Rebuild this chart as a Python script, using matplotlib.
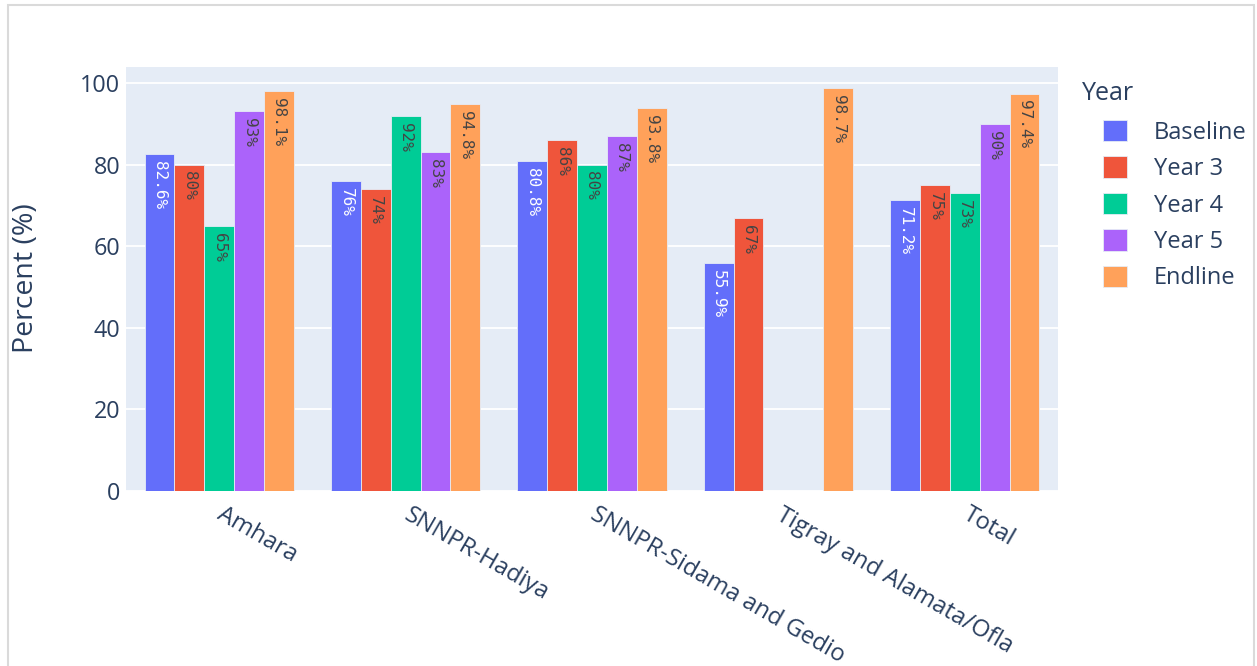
import numpy as np
import matplotlib
matplotlib.use("Agg")
import matplotlib.pyplot as plt
from matplotlib.patches import Rectangle

plt.rcParams['font.family'] = ['Open Sans', 'DejaVu Sans']

# Regions along the x axis
regions = ["Amhara", "SNNPR-Hadiya", "SNNPR-Sidama and Gedio",
           "Tigray and Alamata/Ofla", "Total"]

# Percent values per survey round (nan = not surveyed)
baseline = [82.6, 76, 80.8, 55.9, 71.2]
year3 = [80, 74, 86, 67, 75]
year4 = [65, 92, 80, np.nan, 73]
year5 = [93, 83, 87, np.nan, 90]
endline = [98.1, 94.8, 93.8, 98.7, 97.4]

series_names = ["Baseline", "Year 3", "Year 4", "Year 5", "Endline"]
series_values = [baseline, year3, year4, year5, endline]
series_colors = ["#636EFA", "#EF553B", "#00CC96", "#AB63FA", "#FFA15A"]
label_colors = ["white", "#444444", "#444444", "#444444", "#444444"]

y_ticks = [0, 20, 40, 60, 80, 100]

W, H = 1257, 666
fig = plt.figure(figsize=(W / 100, H / 100), dpi=100)
fig.patch.set_facecolor("white")

# light frame around the figure
fig.patches.append(Rectangle((8 / W, -0.05), (1254 - 8) / W, 1.05 - 5 / H,
                             transform=fig.transFigure, fill=False,
                             edgecolor="#dadada", linewidth=1.5, zorder=0))

ax = fig.add_axes([126 / W, 1 - 491 / H, 932 / W, 424 / H])
ax.set_facecolor("#E5ECF6")
text_color = "#2a3f5f"

x = np.arange(len(regions))
bar_w = 0.16
handles = []
for i, (name, vals, col, lcol) in enumerate(zip(series_names, series_values,
                                               series_colors, label_colors)):
    vals = np.array(vals, dtype=float)
    pos = x + (i - 2) * bar_w
    bars = ax.bar(pos, vals, width=bar_w, color=col, edgecolor="#E5ECF6",
                  linewidth=0.6, zorder=3, label=name)
    handles.append(bars)
    for px, v in zip(pos, vals):
        if np.isnan(v):
            continue
        ax.annotate(f"{v:g}%", xy=(px, v), xytext=(0, -5),
                    textcoords="offset points", rotation=-90,
                    ha="center", va="top", fontsize=11.5,
                    family="DejaVu Sans Mono", color=lcol, zorder=4)

ax.set_xlim(-0.5, len(regions) - 0.5)
ax.set_ylim(0, 103.9)
ax.set_yticks(y_ticks)
ax.yaxis.grid(True, color="white", linewidth=1.3, zorder=1)
ax.set_axisbelow(True)
for s in ax.spines.values():
    s.set_visible(False)

ax.tick_params(axis="y", length=0, pad=4, labelsize=16.8, labelcolor=text_color)
ax.tick_params(axis="x", length=0, pad=16, labelsize=17.2, labelcolor=text_color)
ax.set_xticks(x)
ax.set_xticklabels(regions, rotation=-30, ha="left", va="center",
                   rotation_mode="anchor")

ax.set_ylabel("Percent (%)", fontsize=20.5, color=text_color)
ax.yaxis.set_label_coords((40 - 126) / 932, (491 - 278) / 424)

# legend
fig.text(1082 / W, 1 - 94 / H, "Year", fontsize=18, color=text_color,
         ha="left", va="center")
ax.legend(handles=handles, labels=series_names, loc="upper left",
          bbox_to_anchor=(1103 / W, 1 - 120 / H), bbox_transform=fig.transFigure,
          frameon=False, fontsize=17.0, handlelength=1.0, handleheight=1.0,
          handletextpad=1.17, labelspacing=0.5, borderpad=0, borderaxespad=0,
          labelcolor=text_color)

fig.savefig("out.png", dpi=100)
